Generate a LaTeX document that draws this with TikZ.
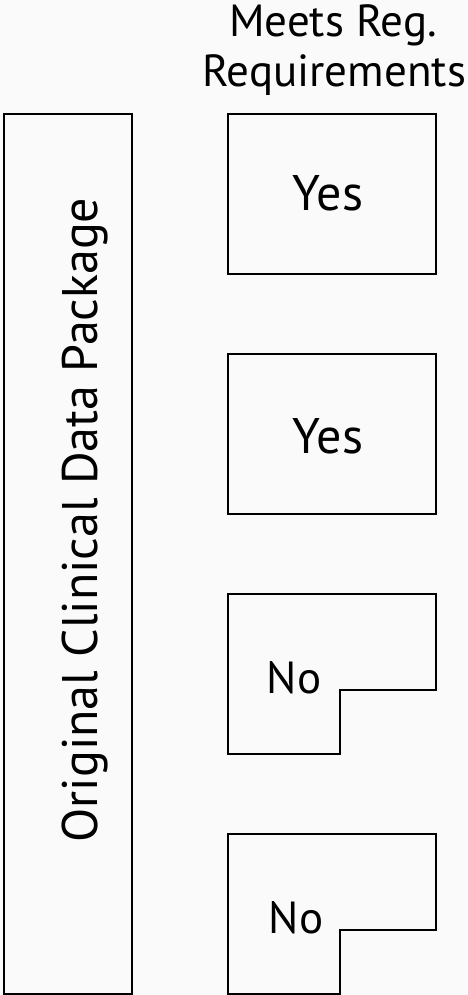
\documentclass[tikz,border=0pt]{standalone}
\usepackage{fontspec}
\setmainfont{PT Sans}
\definecolor{bg}{RGB}{250,250,250}
\begin{document}
\begin{tikzpicture}[x=1pt,y=-1pt,
  boxline/.style={draw=black,line width=1.5pt},
  yesbox/.style={boxline,minimum width=208pt,minimum height=160pt,anchor=north west,inner sep=0pt,outer sep=0pt},
  lbl/.style={font=\fontsize{45}{50}\selectfont,inner sep=0pt,anchor=base},
  biglbl/.style={lbl,font=\fontsize{50}{55}\selectfont},
]
\fill[bg] (0,0) rectangle (467,995);
\useasboundingbox (0,0) rectangle (467,995);
% left tall box
\draw[boxline] (4,114) rectangle (132,994);
\node[biglbl,rotate=90] (orig) at (97,520) {Original Clinical Data Package};
% header
\node[lbl] (hdr1) at (333,37) {Meets Reg.};
\node[lbl] (hdr2) at (334,87) {Requirements};
% yes boxes
\node[yesbox] (y1) at (228,114) {};
\node[biglbl] (y1t) at (328,210) {Yes};
\node[yesbox] (y2) at (228,354) {};
\node[biglbl] (y2t) at (328,453) {Yes};
% notched no boxes
\coordinate (n1) at (228,594);
\draw[boxline] (n1) -- ++(208,0) -- ++(0,96) -- ++(-96,0) -- ++(0,64) -- ++(-112,0) -- cycle;
\node[lbl] (n1t) at (294,693) {No};
\coordinate (n2) at (228,834);
\draw[boxline] (n2) -- ++(208,0) -- ++(0,96) -- ++(-96,0) -- ++(0,64) -- ++(-112,0) -- cycle;
\node[lbl] (n2t) at (296,933) {No};
\end{tikzpicture}
\end{document}
